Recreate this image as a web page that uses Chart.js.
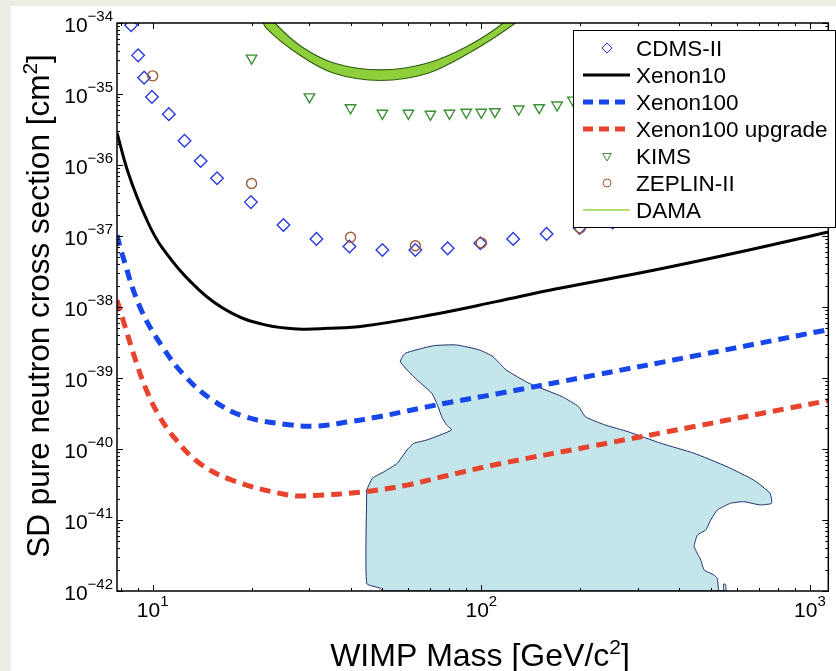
<!DOCTYPE html>
<html>
<head>
<meta charset="utf-8">
<script src="https://cdn.jsdelivr.net/npm/chart.js@4.4.1/dist/chart.umd.min.js"></script>
<style>
  html, body { margin: 0; padding: 0; background: #eeede6; }
  #marco { position: absolute; left: 11px; top: 6px; width: 825px; height: 665px; background: #fff; }
</style>
</head>
<body>
<div id="marco"><canvas id="graficaWimp" width="825" height="665"></canvas></div>
<script>
"use strict";

// ---- datos (masa en GeV/c^2, seccion eficaz en cm^2) ----
const cdmsMasa   = [8.6, 9.03, 9.42, 9.95, 11.2, 12.5, 14.0, 15.7, 19.9, 25.0, 31.5, 39.7, 50.0, 63.0, 79.0, 99.3, 125, 158, 199, 251, 316, 398, 501, 631, 794, 1000];
const cdmsSigma  = [9.3e-35, 3.5e-35, 1.7e-35, 9.1e-36, 5.2e-36, 2.2e-36, 1.14e-36, 6.5e-37, 3.0e-37, 1.43e-37, 9.1e-38, 7.1e-38, 6.35e-38, 6.35e-38, 6.7e-38, 7.9e-38, 9.1e-38, 1.07e-37, 1.3e-37, 1.55e-37, 1.9e-37, 2.4e-37, 2.9e-37, 3.6e-37, 4.4e-37, 5.4e-37];

const xenon10Masa  = [7.79, 8.43, 9.5, 10.7, 13.86, 17.4, 22.0, 27.7, 34.1, 44.0, 69.9, 111, 168, 337, 673, 1137];
const xenon10Sigma = [2.83e-36, 7.7e-37, 1.87e-37, 6.8e-38, 1.73e-38, 8.2e-39, 5.6e-39, 4.9e-39, 5.0e-39, 5.4e-39, 7.7e-39, 1.19e-38, 1.79e-38, 3.32e-38, 6.56e-38, 1.14e-37];

const xenon100Masa  = [7.79, 8.05, 9.14, 10.7, 12.6, 15.2, 19.1, 26.4, 31.8, 39.2, 48.3, 59.4, 78.4, 111, 222, 444, 1137];
const xenon100Sigma = [1.03e-37, 5.8e-38, 1.01e-38, 2.76e-39, 1.04e-39, 4.9e-40, 2.85e-40, 2.18e-40, 2.11e-40, 2.4e-40, 2.82e-40, 3.43e-40, 4.45e-40, 5.96e-40, 1.1e-39, 2.04e-39, 4.8e-39];

const upgradeMasa  = [7.79, 8.24, 8.93, 9.57, 10.5, 11.8, 13.86, 17.4, 25.9, 31.0, 44.0, 59.4, 78.4, 111, 222, 444, 871, 1137];
const upgradeSigma = [1.25e-38, 5.3e-39, 1.63e-39, 6.8e-40, 2.85e-40, 1.34e-40, 6.35e-41, 3.66e-41, 2.25e-41, 2.22e-41, 2.5e-41, 3.1e-41, 4.2e-41, 6.05e-41, 1.12e-40, 2.07e-40, 3.8e-40, 4.8e-40];

const kimsMasa  = [20, 30, 40, 50, 60, 70, 80, 90, 100, 110, 130, 150, 170, 190, 250, 300, 400, 500, 700, 1000];
const kimsSigma = [3.2e-35, 9.1e-36, 6.4e-36, 5.35e-36, 5.35e-36, 5.18e-36, 5.35e-36, 5.52e-36, 5.52e-36, 5.63e-36, 6.15e-36, 6.41e-36, 7.0e-36, 8.2e-36, 9e-36, 1.1e-35, 1.4e-35, 1.7e-35, 2.3e-35, 3.2e-35];

const zeplinMasa  = [10, 20, 40, 63, 100, 200, 400, 1000];
const zeplinSigma = [1.8e-35, 5.5e-37, 9.6e-38, 7.3e-38, 8.0e-38, 1.3e-37, 2.4e-37, 5.5e-37];

// banda DAMA: borde exterior de izquierda a derecha, luego borde interior de vuelta
const damaMasa  = [21.2, 22.2, 28.0, 35.6, 49.4, 68.8, 91.5, 127, 132, 119, 116.3, 90.1, 68.3, 49.4, 35.8, 28.4, 23.6, 23.0];
const damaSigma = [1.3e-34, 8.4e-35, 3.54e-35, 1.96e-35, 1.55e-35, 1.96e-35, 3.74e-35, 1.0e-34, 1.3e-34, 1.3e-34, 9.9e-35, 4.64e-35, 2.71e-35, 2.18e-35, 2.71e-35, 4.64e-35, 9.9e-35, 1.3e-34];

// region sombreada (contorno cerrado)
const regionMasa  = [44.8, 46.6, 50.6, 55.5, 59.4, 62.3, 68.3, 81.2, 78.4, 75.8, 73.2, 70.7, 62.3, 56.7, 58.7, 71.5, 84.1, 98.8, 108.5, 119, 139.8, 176.2, 197.8, 207.2, 237.9, 279.8, 352.7, 444.3, 559.8, 673.4, 755.9, 764.3, 705.6, 628.4, 573.1, 522.2, 498.8, 481.8, 454.6, 444.3, 465.5, 476.2, 510.4, 522.2, 528.3, 545, 546, 553, 554, 50.0, 49.4, 44.8, 44.8];
const regionSigma = [2.65e-41, 3.87e-41, 4.79e-41, 6.29e-41, 9.68e-41, 1.2e-40, 1.34e-40, 1.85e-40, 2.18e-40, 2.85e-40, 4.4e-40, 6.09e-40, 1.04e-39, 1.7e-39, 2.23e-39, 2.85e-39, 2.92e-39, 2.48e-39, 2.0e-39, 1.3e-39, 8.42e-40, 5.45e-40, 3.94e-40, 2.85e-40, 2.18e-40, 1.75e-40, 1.2e-40, 8.7e-41, 5.63e-41, 3.66e-41, 2.38e-41, 1.72e-41, 1.63e-41, 1.81e-41, 1.72e-41, 1.38e-41, 1.0e-41, 7.23e-42, 6.15e-42, 4.21e-42, 2.73e-42, 1.98e-42, 1.68e-42, 1.51e-42, 1.0e-42, 1.0e-42, 1.25e-42, 1.25e-42, 1.0e-42, 1.0e-42, 1.09e-42, 1.28e-42, 2.65e-41];

// ejes
const xMin = 7.79, xMax = 1137;
const xTicksValor = [10, 100, 1000];
const xTicksExp   = ['1', '2', '3'];
const yTicksExp   = [-34, -35, -36, -37, -38, -39, -40, -41, -42];

const fuente = "'Liberation Sans', Arial, Helvetica, sans-serif";

function puntos(xs, ys) {
    return xs.map((x, i) => ({ x: x, y: ys[i] }));
}

const sinRelleno = 'rgba(0,0,0,0)';

const datasets = [
    {
        label: 'CDMS-II', data: puntos(cdmsMasa, cdmsSigma), order: 1,
        showLine: false, pointStyle: 'rectRot', pointRadius: 6.3, pointBorderWidth: 1.4,
        borderColor: '#2a3be0', backgroundColor: sinRelleno
    },
    {
        label: 'Xenon10', data: puntos(xenon10Masa, xenon10Sigma), order: 3,
        showLine: true, pointRadius: 0, borderWidth: 3, borderColor: '#000',
        tension: 0.4, backgroundColor: sinRelleno
    },
    {
        label: 'Xenon100', data: puntos(xenon100Masa, xenon100Sigma), order: 4,
        showLine: true, pointRadius: 0, borderWidth: 5, borderColor: '#1747ea',
        borderDash: [11, 7], tension: 0.4, backgroundColor: sinRelleno
    },
    {
        label: 'Xenon100 upgrade', data: puntos(upgradeMasa, upgradeSigma), order: 4,
        showLine: true, pointRadius: 0, borderWidth: 5, borderColor: '#e8432c',
        borderDash: [11, 7], tension: 0.4, backgroundColor: sinRelleno
    },
    {
        label: 'KIMS', data: puntos(kimsMasa, kimsSigma), order: 1,
        showLine: false, pointStyle: 'triangle', rotation: 180, pointRadius: 6, pointBorderWidth: 1.4,
        borderColor: '#3d8f34', backgroundColor: sinRelleno
    },
    {
        label: 'ZEPLIN-II', data: puntos(zeplinMasa, zeplinSigma), order: 0,
        showLine: false, pointStyle: 'circle', pointRadius: 5, pointBorderWidth: 1.4,
        borderColor: '#a05a36', backgroundColor: sinRelleno
    },
    {
        label: 'DAMA', data: puntos(damaMasa, damaSigma), order: 6,
        showLine: true, pointRadius: 0, borderWidth: 1.2, borderColor: '#2f5f12',
        backgroundColor: '#8fcf3c', fill: 'shape', tension: 0.3
    },
    {
        label: '', data: puntos(regionMasa, regionSigma), order: 8,
        showLine: true, pointRadius: 0, borderWidth: 1, borderColor: '#22306e',
        backgroundColor: '#c4e6ea', fill: 'shape', tension: 0.15
    }
];

function potencia(ctx, x, baseY, exp, alinear) {
    ctx.font = '21px ' + fuente;
    const w1 = ctx.measureText('10').width;
    ctx.font = '15px ' + fuente;
    const w2 = ctx.measureText(exp).width;
    let izq = alinear === 'right' ? x - w1 - w2 : x - (w1 + w2) / 2;
    ctx.font = '21px ' + fuente;
    ctx.fillText('10', izq, baseY);
    ctx.font = '15px ' + fuente;
    ctx.fillText(exp, izq + w1, baseY - 11);
}

const marcoPlugin = {
    id: 'marcoMatlab',
    afterDatasetsDraw(chart) {
        const ctx = chart.ctx;
        const a = chart.chartArea;
        const sx = chart.scales.x, sy = chart.scales.y;
        ctx.save();
        ctx.strokeStyle = '#000';
        ctx.lineWidth = 1;

        // marcas del eje x (hacia dentro, arriba y abajo)
        for (let e = 0; e <= 3; e++) {
            for (let m = 1; m <= 9; m++) {
                const v = m * Math.pow(10, e);
                if (v < xMin || v > xMax) continue;
                const px = Math.round(sx.getPixelForValue(v)) + 0.5;
                const largo = m === 1 ? 6 : 3;
                ctx.beginPath();
                ctx.moveTo(px, a.bottom); ctx.lineTo(px, a.bottom - largo);
                ctx.moveTo(px, a.top);    ctx.lineTo(px, a.top + largo);
                ctx.stroke();
            }
        }
        // marcas del eje y
        yTicksExp.forEach(function (e) {
            for (let m = 1; m <= 9; m++) {
                if (e === -34 && m > 1) break;
                const py = Math.round(sy.getPixelForValue(m * Math.pow(10, e))) + 0.5;
                const largo = m === 1 ? 6 : 3;
                ctx.beginPath();
                ctx.moveTo(a.left, py);  ctx.lineTo(a.left + largo, py);
                ctx.moveTo(a.right, py); ctx.lineTo(a.right - largo, py);
                ctx.stroke();
            }
        });

        ctx.lineWidth = 1.5;
        ctx.strokeRect(a.left, a.top, a.right - a.left, a.bottom - a.top);

        // etiquetas
        ctx.fillStyle = '#000';
        ctx.textAlign = 'left';
        ctx.textBaseline = 'alphabetic';
        xTicksValor.forEach(function (v, i) {
            potencia(ctx, sx.getPixelForValue(v), a.bottom + 26, xTicksExp[i], 'center');
        });
        yTicksExp.forEach(function (e) {
            const py = sy.getPixelForValue(Math.pow(10, e));
            potencia(ctx, a.left - 4, py + 9, '\u2212' + Math.abs(e), 'right');
        });

        // titulo eje x
        ctx.font = '32px ' + fuente;
        const t1 = 'WIMP Mass [GeV/c', t2 = ']';
        const w1 = ctx.measureText(t1).width, w3 = ctx.measureText(t2).width;
        ctx.font = '21px ' + fuente;
        const w2 = ctx.measureText('2').width;
        let x0 = 469 - (w1 + w2 + w3) / 2;
        ctx.font = '32px ' + fuente;
        ctx.fillText(t1, x0, 660);
        ctx.fillText(t2, x0 + w1 + w2, 660);
        ctx.font = '21px ' + fuente;
        ctx.fillText('2', x0 + w1, 648);

        // titulo eje y
        ctx.save();
        ctx.translate(38, 300);
        ctx.rotate(-Math.PI / 2);
        ctx.font = '31.5px ' + fuente;
        const s1 = 'SD pure neutron cross section [cm', s3 = ']';
        const v1 = ctx.measureText(s1).width, v3 = ctx.measureText(s3).width;
        ctx.font = '21px ' + fuente;
        const v2 = ctx.measureText('2').width;
        let y0 = -(v1 + v2 + v3) / 2;
        ctx.font = '31.5px ' + fuente;
        ctx.fillText(s1, y0, 0);
        ctx.fillText(s3, y0 + v1 + v2, 0);
        ctx.font = '21px ' + fuente;
        ctx.fillText('2', y0 + v1, -12);
        ctx.restore();

        // leyenda
        const lx = 562, ly = 24, lw = 262, lh = 197;
        ctx.fillStyle = '#fff';
        ctx.fillRect(lx, ly, lw, lh);
        ctx.strokeStyle = '#000';
        ctx.lineWidth = 1;
        ctx.strokeRect(lx + 0.5, ly + 0.5, lw, lh);
        const items = chart.data.datasets.filter(d => d.label);
        items.forEach(function (d, i) {
            const cy = 42 + i * 27;
            ctx.save();
            if (d.fill === 'shape') {
                ctx.strokeStyle = '#9ad83c';
                ctx.lineWidth = 1.5;
                ctx.beginPath(); ctx.moveTo(572, cy); ctx.lineTo(619, cy); ctx.stroke();
            } else if (d.showLine) {
                ctx.strokeStyle = d.borderColor;
                ctx.lineWidth = d.borderWidth;
                ctx.setLineDash(d.borderDash ? [10, 6] : []);
                ctx.beginPath(); ctx.moveTo(572, cy); ctx.lineTo(619, cy); ctx.stroke();
            } else {
                ctx.strokeStyle = d.borderColor;
                ctx.fillStyle = sinRelleno;
                Chart.helpers.drawPoint(ctx, {
                    pointStyle: d.pointStyle, rotation: d.rotation || 0,
                    radius: d.pointStyle === 'circle' ? 4 : 5, borderWidth: 1.4
                }, 596, cy);
            }
            ctx.restore();
            ctx.fillStyle = '#000';
            ctx.font = '22.5px ' + fuente;
            ctx.fillText(d.label, 625, cy + 8);
        });
        ctx.restore();
    }
};

new Chart(document.getElementById('graficaWimp'), {
    type: 'scatter',
    data: { datasets: datasets },
    options: {
        responsive: false,
        animation: false,
        events: [],
        layout: { padding: { left: 106, top: 17, right: 1, bottom: 80 } },
        plugins: {
            legend: { display: false },
            tooltip: { enabled: false }
        },
        scales: {
            x: { type: 'logarithmic', min: xMin, max: xMax, bounds: 'data', display: false },
            y: { type: 'logarithmic', min: 1e-42, max: 1e-34, bounds: 'data', display: false }
        }
    },
    plugins: [marcoPlugin]
});
</script>
</body>
</html>
